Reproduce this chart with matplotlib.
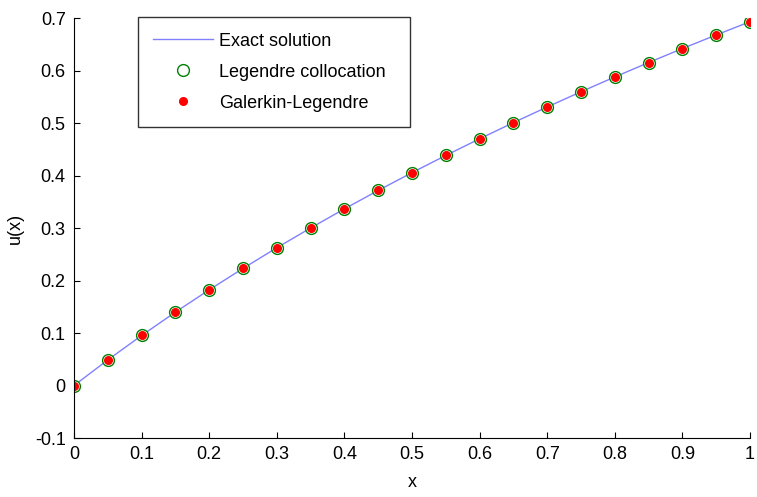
import matplotlib.pyplot as plt

# sample points and solution values u(x)
x = [0.0, 0.05, 0.1, 0.15, 0.2, 0.25, 0.3, 0.35, 0.4, 0.45, 0.5,
     0.55, 0.6, 0.65, 0.7, 0.75, 0.8, 0.85, 0.9, 0.95, 1.0]
u_exact = [0.0, 0.0488, 0.0953, 0.1398, 0.1823, 0.2231, 0.2624, 0.3001,
           0.3365, 0.3716, 0.4055, 0.4383, 0.4700, 0.5008, 0.5306, 0.5596,
           0.5878, 0.6152, 0.6419, 0.6678, 0.6931]
u_colloc = u_exact
u_galerkin = u_exact

xticks = [0, 0.1, 0.2, 0.3, 0.4, 0.5, 0.6, 0.7, 0.8, 0.9, 1]
yticks = [-0.1, 0, 0.1, 0.2, 0.3, 0.4, 0.5, 0.6, 0.7]

plt.rcParams['font.family'] = ['Liberation Sans', 'DejaVu Sans']

fig = plt.figure(figsize=(7.57, 4.97), dpi=100)
ax = fig.add_axes([0.0978, 0.1187, 0.893, 0.845])

ax.plot(x, u_exact, color="#8080ff", lw=1, label="Exact solution")
ax.plot(x, u_colloc, "o", ms=8.5, mfc="white", mec="green", mew=1,
        ls="none", label="Legendre collocation")
ax.plot(x, u_galerkin, "o", ms=5.5, color="red", ls="none",
        label="Galerkin-Legendre")

ax.set_xlim(0, 1)
ax.set_ylim(-0.1, 0.7)
ax.set_xticks(xticks)
ax.set_xticklabels(["0", "0.1", "0.2", "0.3", "0.4", "0.5", "0.6", "0.7", "0.8", "0.9", "1"])
ax.set_yticks(yticks)
ax.set_yticklabels(["-0.1", "0", "0.1", "0.2", "0.3", "0.4", "0.5", "0.6", "0.7"])
ax.tick_params(direction="in", length=4, labelsize=13, pad=6)
ax.spines["top"].set_visible(False)
ax.spines["right"].set_visible(False)

ax.set_xlabel("x", fontsize=13, labelpad=8)
ax.set_ylabel("u(x)", fontsize=13, labelpad=8)

# legend box spans a fixed width in the upper left
leg = ax.legend(loc="upper left", bbox_to_anchor=(0.0947, 0.748, 0.402, 0.254),
                mode="expand", fontsize=13, frameon=True, fancybox=False,
                edgecolor="black", handlelength=3.3, handletextpad=0.35,
                borderpad=0.85, borderaxespad=0, labelspacing=0.78)
leg._legend_box.sep = 0
leg.get_frame().set_linewidth(1)

fig.savefig("out.png", dpi=100)
